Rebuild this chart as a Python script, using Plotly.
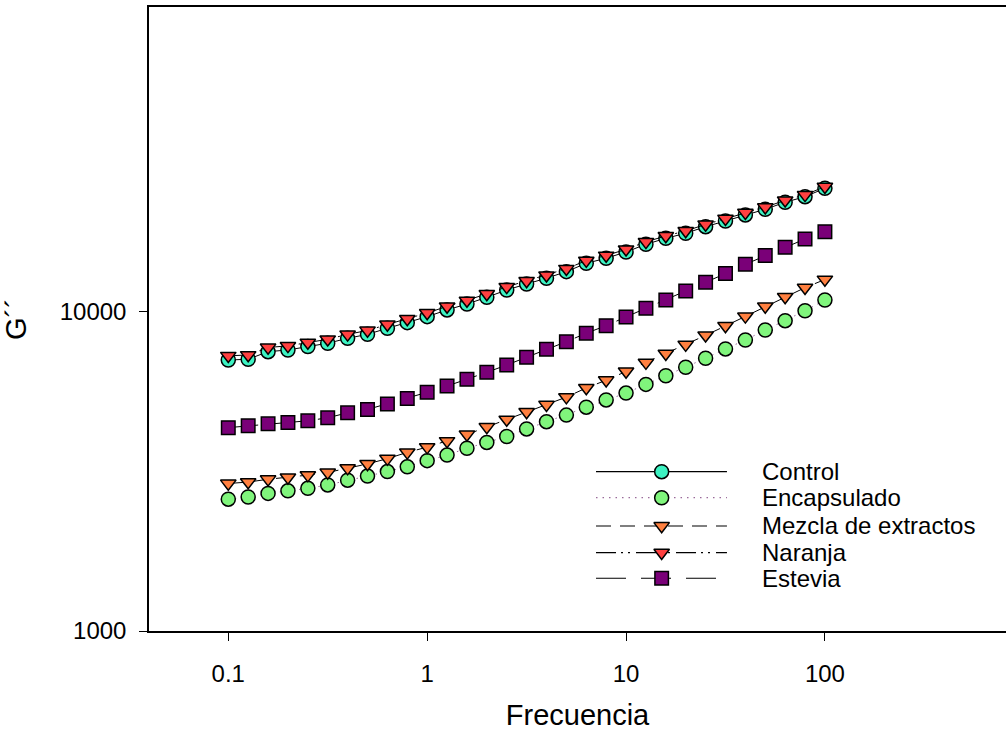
import plotly.graph_objects as go

# ---------------- data ----------------
frecuencia = [0.1, 0.1259, 0.1585, 0.1995, 0.2512, 0.3162, 0.3981, 0.5012, 0.631, 0.7943,
              1, 1.259, 1.585, 1.995, 2.512, 3.162, 3.981, 5.012, 6.31, 7.943,
              10, 12.59, 15.85, 19.95, 25.12, 31.62, 39.81, 50.12, 63.1, 79.43, 100]

control = [7070, 7110, 7510, 7600, 7790, 7980, 8270, 8510, 8890, 9260,
           9670, 10150, 10590, 11120, 11720, 12240, 12760, 13380, 14210, 14740,
           15420, 16300, 17020, 17650, 18510, 19290, 20150, 20990, 22080, 22980, 24420]

encapsulado = [2590, 2630, 2700, 2750, 2800, 2870, 2970, 3060, 3160, 3270,
               3420, 3560, 3740, 3900, 4070, 4300, 4530, 4750, 5030, 5300,
               5570, 5930, 6310, 6710, 7160, 7660, 8170, 8780, 9390, 10090, 10900]

mezcla = [2900, 2930, 2990, 3030, 3080, 3140, 3240, 3340, 3470, 3630,
          3770, 3940, 4130, 4360, 4600, 4860, 5120, 5410, 5780, 6110,
          6510, 6940, 7400, 7900, 8450, 9040, 9690, 10410, 11150, 11920, 12640]

naranja = [7290, 7330, 7740, 7830, 8020, 8210, 8510, 8750, 9140, 9510,
           9930, 10410, 10860, 11390, 11990, 12510, 13030, 13660, 14490, 15030,
           15720, 16590, 17310, 17950, 18810, 19600, 20470, 21300, 22390, 23290, 24700]

estevia = [4340, 4400, 4460, 4500, 4560, 4660, 4830, 4950, 5150, 5360,
           5600, 5860, 6150, 6470, 6820, 7210, 7640, 8070, 8580, 9060,
           9650, 10270, 10900, 11640, 12390, 13190, 14110, 15020, 15950, 16930, 17850]

series_names = ["Control", "Encapsulado", "Mezcla de extractos", "Naranja", "Estevia"]
series_values = [control, encapsulado, mezcla, naranja, estevia]

x_tick_vals = [0.1, 1, 10, 100]
x_tick_text = ["0.1", "1", "10", "100"]
y_tick_vals = [1000, 10000]
y_tick_text = ["1000", "10000"]

# ---------------- styles ----------------
styles = [
    dict(symbol="circle", color="#3DF2C2", size=14, lcolor="black", dash="solid"),
    dict(symbol="circle", color="#80F57C", size=14, lcolor="#9A6A9A", dash="1.5px,5px"),
    dict(symbol="triangle-down", color="#FF8040", size=13.5, lcolor="black", dash="15px,9px"),
    dict(symbol="triangle-down", color="#FF4040", size=13.5, lcolor="black", dash="20px,5px,2px,5px,2px,6px"),
    dict(symbol="square", color="#7A0078", size=13.5, lcolor="black", dash="30px,15px"),
]

FONT = "Arial, 'Liberation Sans', sans-serif"

fig = go.Figure()

for name, vals, st in zip(series_names, series_values, styles):
    fig.add_trace(go.Scatter(
        x=frecuencia, y=vals, name=name, mode="lines+markers",
        line=dict(color=st["lcolor"], width=1, dash=st["dash"]),
        marker=dict(symbol=st["symbol"], color=st["color"], size=st["size"],
                    line=dict(color="black", width=1.5)),
        showlegend=False, cliponaxis=False,
    ))

# ---------------- custom legend (overlay axes in 0..1 units) ----------------
leg_x0, leg_xm, leg_x1 = 0.5216, 0.5982, 0.6744
leg_text_x = 0.7125
leg_rows = [0.2553, 0.2136, 0.1683, 0.1255, 0.0845]

for name, st, ry in zip(series_names, styles, leg_rows):
    fig.add_trace(go.Scatter(
        x=[leg_x0, leg_x1], y=[ry, ry], mode="lines", xaxis="x2", yaxis="y2",
        line=dict(color=st["lcolor"], width=1.2, dash=st["dash"]),
        showlegend=False, hoverinfo="skip",
    ))
    fig.add_trace(go.Scatter(
        x=[leg_xm], y=[ry], mode="markers", xaxis="x2", yaxis="y2",
        marker=dict(symbol=st["symbol"], color=st["color"], size=st["size"],
                    line=dict(color="black", width=1.5)),
        showlegend=False, hoverinfo="skip",
    ))
    fig.add_annotation(x=leg_text_x, y=ry, xref="paper", yref="paper",
                       text=name, showarrow=False, xanchor="left", yanchor="middle",
                       font=dict(family=FONT, size=24, color="black"))

fig.update_layout(
    width=1006, height=731,
    margin=dict(l=149, r=0, t=7, b=100),
    paper_bgcolor="white", plot_bgcolor="white",
    font=dict(family=FONT, color="black"),
    showlegend=False,
    xaxis=dict(
        type="log", range=[-1.3987, 2.9105],
        tickvals=x_tick_vals, ticktext=x_tick_text,
        ticks="outside", ticklen=8, tickwidth=1, tickcolor="black",
        showline=True, linecolor="black", linewidth=1.5, mirror=True,
        showgrid=False, zeroline=False,
        tickfont=dict(size=24, family=FONT), ticklabelstandoff=12,
        title=dict(text="Frecuencia", font=dict(size=29, family=FONT), standoff=22),
    ),
    yaxis=dict(
        type="log", range=[3, 4.956],
        tickvals=y_tick_vals, ticktext=y_tick_text,
        ticks="outside", ticklen=8, tickwidth=1, tickcolor="black",
        showline=True, linecolor="black", linewidth=1.5, mirror=False,
        showgrid=False, zeroline=False,
        tickfont=dict(size=24, family=FONT), ticklabelstandoff=8,
        title=dict(text="G´´", font=dict(size=29, family=FONT), standoff=26),
    ),
    xaxis2=dict(overlaying="x", anchor="y2", range=[0, 1], visible=False),
    yaxis2=dict(overlaying="y", anchor="x2", range=[0, 1], visible=False),
)

fig.write_html("out.html",
               config={"displayModeBar": False},
               post_script="document.body.style.margin='0';document.body.style.overflow='hidden';")
